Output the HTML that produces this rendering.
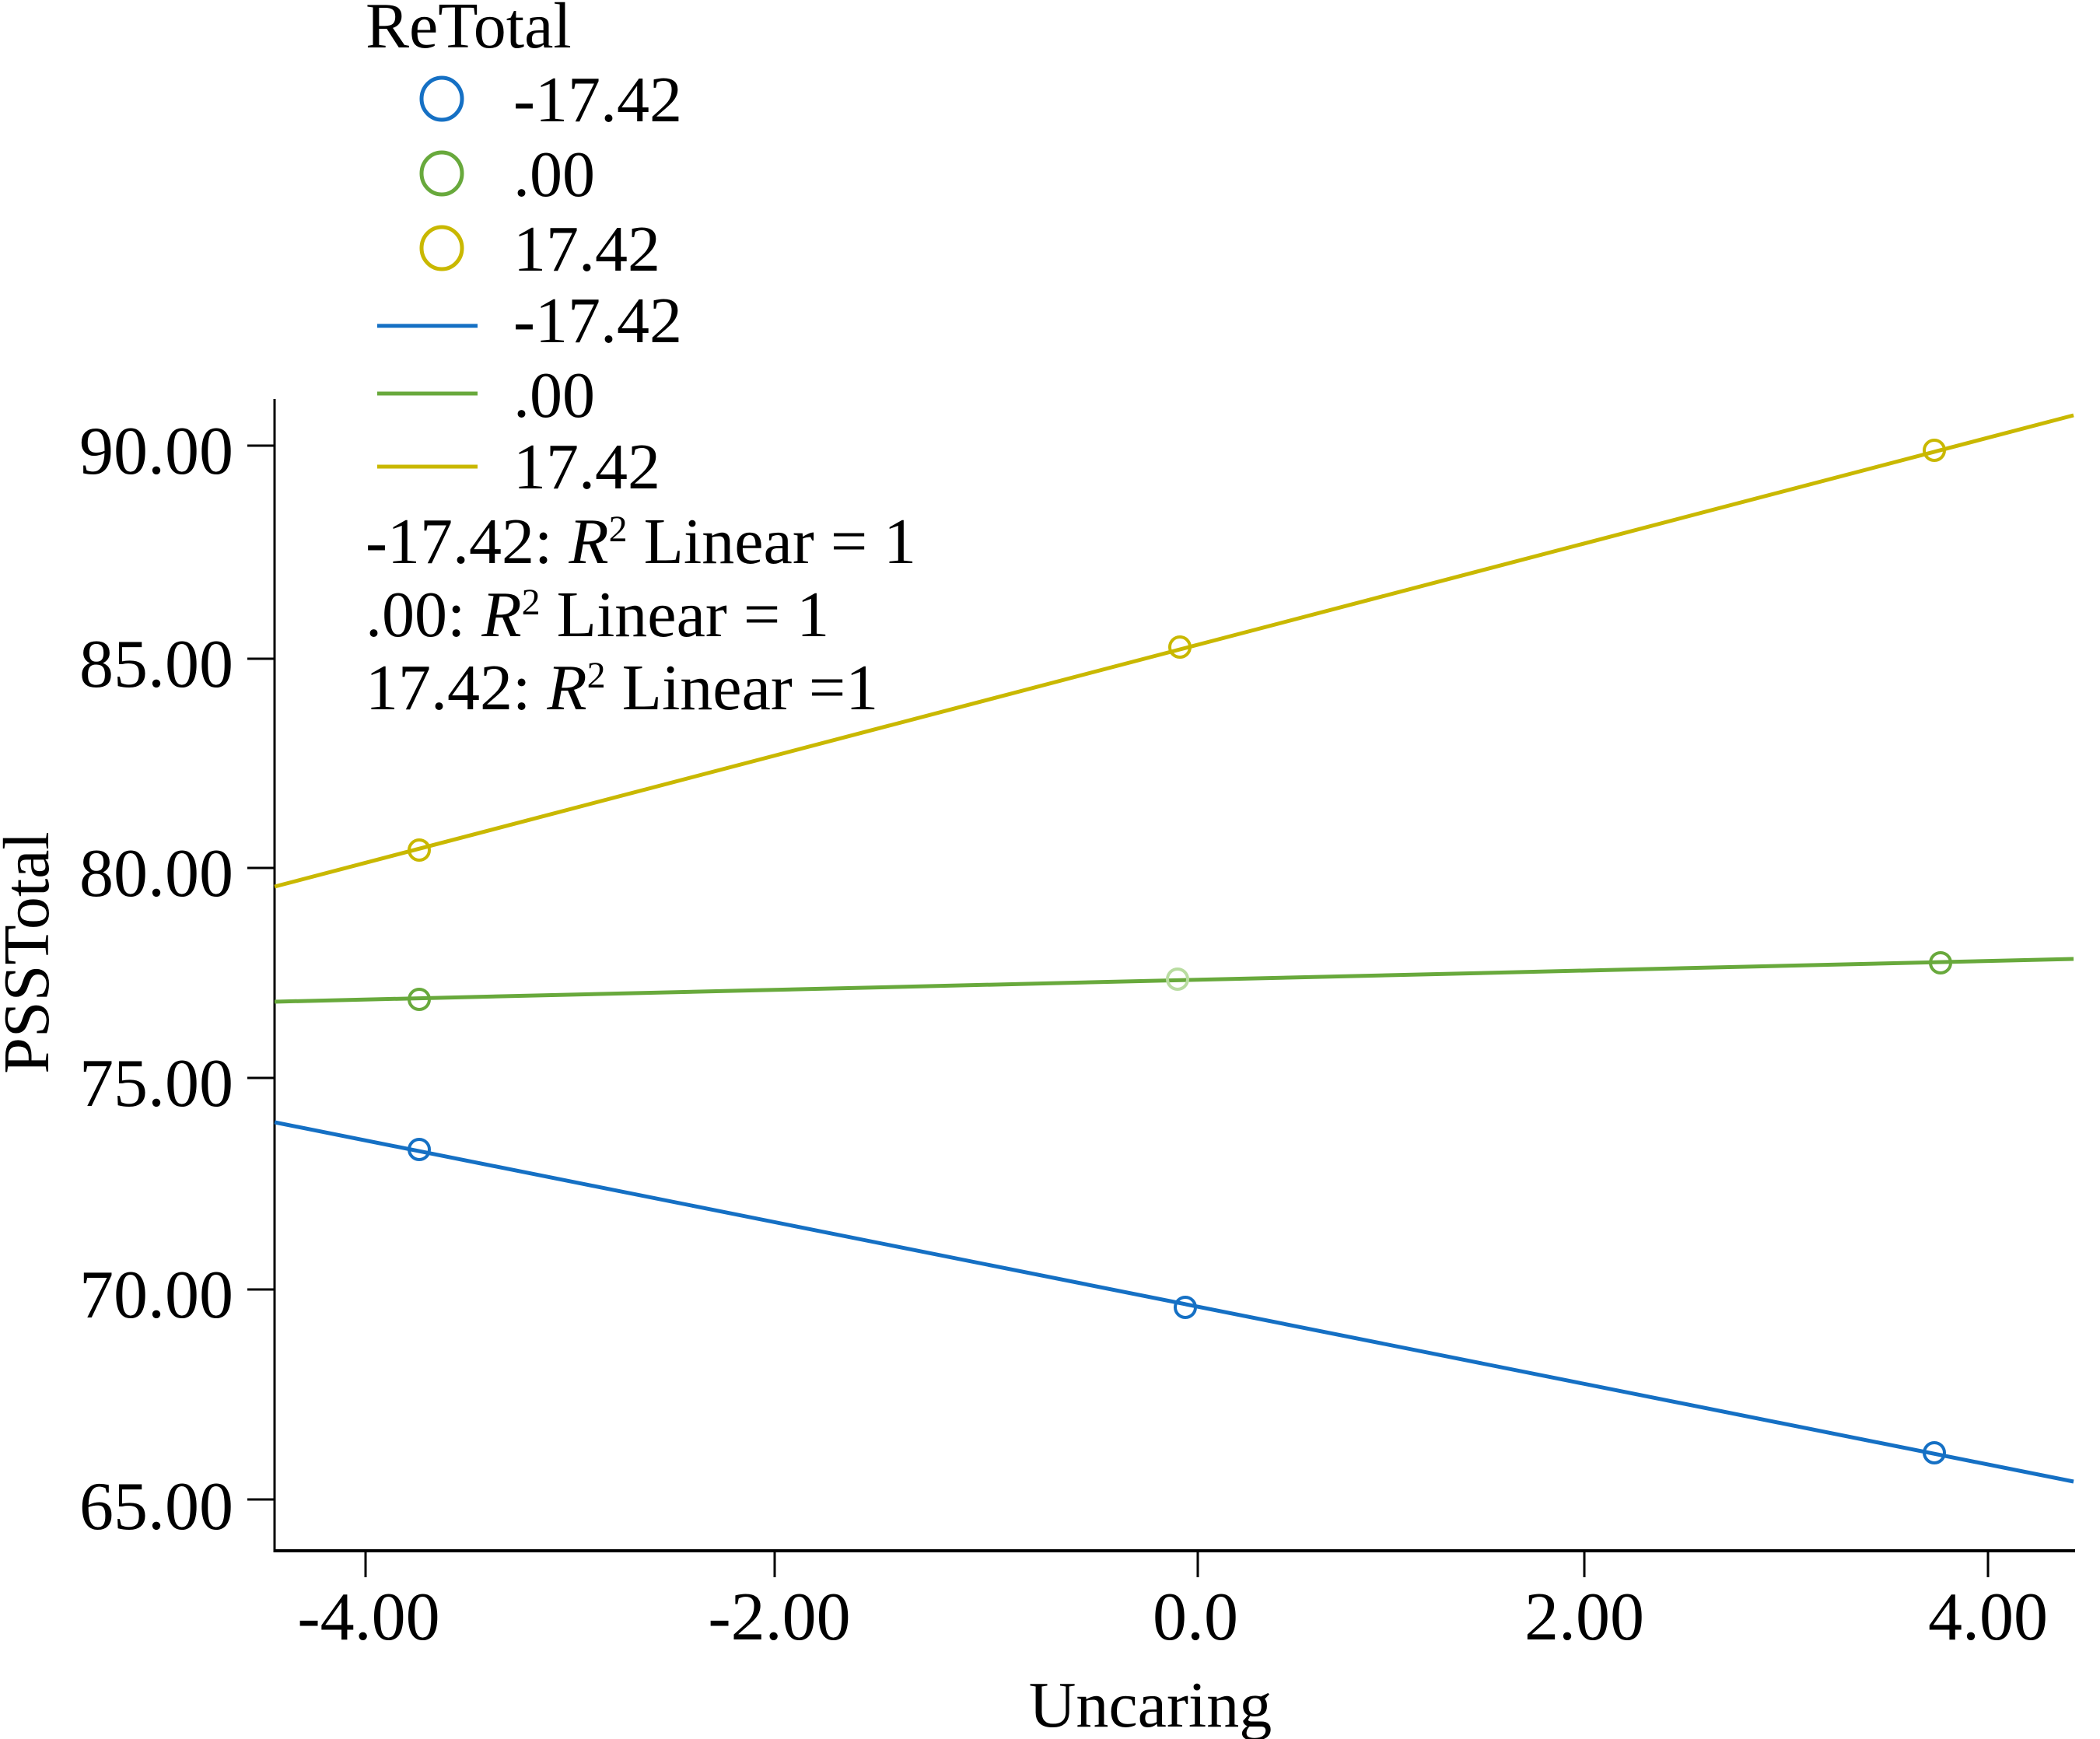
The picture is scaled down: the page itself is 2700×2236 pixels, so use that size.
<!DOCTYPE html>
<html><head><meta charset="utf-8"><style>
html,body{margin:0;padding:0;background:#fff;}
svg{display:block;}
text{font-family:"Liberation Serif",serif;fill:#000;}
</style></head><body>
<svg width="2700" height="2236" viewBox="0 0 2700 2236" xmlns="http://www.w3.org/2000/svg">
<!-- axes -->
<line x1="353" y1="513" x2="353" y2="1996" stroke="#000" stroke-width="3"/>
<line x1="352" y1="1994" x2="2668" y2="1994" stroke="#000" stroke-width="4"/>
<g stroke="#000" stroke-width="3">
<line x1="318" y1="573" x2="353" y2="573"/>
<line x1="318" y1="847" x2="353" y2="847"/>
<line x1="318" y1="1116" x2="353" y2="1116"/>
<line x1="318" y1="1386" x2="353" y2="1386"/>
<line x1="318" y1="1658" x2="353" y2="1658"/>
<line x1="318" y1="1928" x2="353" y2="1928"/>
<line x1="470" y1="1994" x2="470" y2="2028"/>
<line x1="996" y1="1994" x2="996" y2="2028"/>
<line x1="1540" y1="1994" x2="1540" y2="2028"/>
<line x1="2037" y1="1994" x2="2037" y2="2028"/>
<line x1="2556" y1="1994" x2="2556" y2="2028"/>
</g>
<g font-size="88" text-anchor="end">
<text x="300" y="609">90.00</text>
<text x="300" y="883">85.00</text>
<text x="300" y="1152">80.00</text>
<text x="300" y="1422">75.00</text>
<text x="300" y="1694">70.00</text>
<text x="300" y="1966">65.00</text>
</g>
<g font-size="88" text-anchor="middle">
<text x="474" y="2108">-4.00</text>
<text x="1002" y="2108">-2.00</text>
<text x="1537" y="2108">0.0</text>
<text x="2037" y="2108">2.00</text>
<text x="2556" y="2108">4.00</text>
<text x="1479" y="2220" font-size="84">Uncaring</text>
<text x="0" y="0" font-size="84" transform="translate(62,1225) rotate(-90)">PSSTotal</text>
</g>
<line x1="353" y1="1140" x2="2666" y2="534" stroke="#c9b800" stroke-width="5"/>
<line x1="353" y1="1288" x2="2666" y2="1233" stroke="#68a93c" stroke-width="5"/>
<line x1="353" y1="1443" x2="2666" y2="1905" stroke="#1570c4" stroke-width="5"/>
<g fill="none" stroke-width="4">
<circle cx="539" cy="1093" r="13" stroke="#c9b800"/>
<circle cx="1517" cy="832" r="13" stroke="#c9b800"/>
<circle cx="2487" cy="579" r="13" stroke="#c9b800"/>
<circle cx="539" cy="1285" r="13" stroke="#68a93c"/>
<circle cx="1514" cy="1259" r="13" stroke="#b8dca0"/>
<circle cx="2495" cy="1238" r="13" stroke="#68a93c"/>
<circle cx="539" cy="1478" r="13" stroke="#1570c4"/>
<circle cx="1524" cy="1681" r="13" stroke="#1570c4"/>
<circle cx="2487" cy="1868" r="13" stroke="#1570c4"/>
</g>
<text x="470" y="61" font-size="84">ReTotal</text>
<g fill="none" stroke-width="5">
<ellipse cx="568" cy="127" rx="26" ry="27" stroke="#1570c4"/>
<ellipse cx="568" cy="223" rx="26" ry="27" stroke="#68a93c"/>
<ellipse cx="568" cy="319" rx="26" ry="27" stroke="#c9b800"/>
<line x1="485" y1="419" x2="614" y2="419" stroke="#1570c4"/>
<line x1="485" y1="506" x2="614" y2="506" stroke="#68a93c"/>
<line x1="485" y1="600" x2="614" y2="600" stroke="#c9b800"/>
</g>
<g font-size="84">
<text x="660" y="156">-17.42</text>
<text x="660" y="252">.00</text>
<text x="660" y="348">17.42</text>
<text x="660" y="440">-17.42</text>
<text x="660" y="536">.00</text>
<text x="660" y="628">17.42</text>
<text x="470" y="724">-17.42: <tspan font-style="italic">R</tspan><tspan font-size="48" dy="-28">2</tspan><tspan dy="28"> Linear = 1</tspan></text>
<text x="470" y="818">.00: <tspan font-style="italic">R</tspan><tspan font-size="48" dy="-28">2</tspan><tspan dy="28"> Linear = 1</tspan></text>
<text x="470" y="912">17.42: <tspan font-style="italic">R</tspan><tspan font-size="48" dy="-28">2</tspan><tspan dy="28"> Linear =1</tspan></text>
</g>
</svg>
</body></html>
